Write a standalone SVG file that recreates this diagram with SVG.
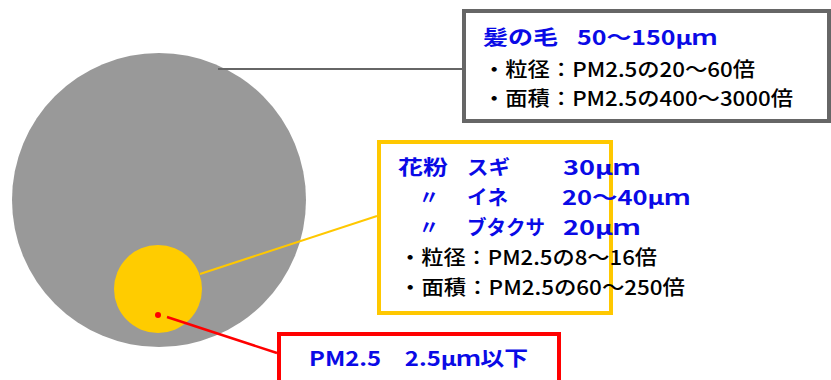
<svg xmlns="http://www.w3.org/2000/svg" width="831" height="380" viewBox="0 0 831 380">
<style>
.t{font-family:"Noto Sans CJK JP","Noto Sans",sans-serif;font-size:20px}
.b{fill:#0a0ae6;font-weight:bold}
.k{fill:#000;font-weight:500}
</style>
<rect width="831" height="380" fill="#fff"/>
<g id="hair"><circle cx="159" cy="200" r="147" fill="#999999"/></g>
<g id="pollen"><circle cx="158" cy="289" r="44" fill="#FFCC00"/></g>
<g id="pm25"><circle cx="158" cy="315" r="3" fill="#FF0000"/></g>
<g id="connectors" fill="none">
<line x1="218" y1="69" x2="462" y2="69" stroke="#666" stroke-width="2"/>
<line x1="200" y1="274" x2="377" y2="216" stroke="#FFC800" stroke-width="2"/>
<line x1="167" y1="317" x2="277" y2="353" stroke="#FF0000" stroke-width="2.5"/>
</g>
<g id="hair-label">
<rect x="464" y="11" width="365" height="110" fill="#fff" stroke="#666" stroke-width="4"/>
<text class="t b" x="483" y="45" textLength="75" lengthAdjust="spacingAndGlyphs">髪の毛</text>
<text class="t b" x="577" y="45" textLength="140" lengthAdjust="spacingAndGlyphs">50～150μｍ</text>
<text class="t k" x="483" y="77" textLength="272" lengthAdjust="spacingAndGlyphs">・粒径：PM2.5の20～60倍</text>
<text class="t k" x="483" y="106" textLength="310" lengthAdjust="spacingAndGlyphs">・面積：PM2.5の400～3000倍</text>
</g>
<g id="pollen-label">
<rect x="379" y="142" width="232" height="171" fill="#fff" stroke="#FFC800" stroke-width="4"/>
<text class="t b" x="398" y="175" textLength="50" lengthAdjust="spacingAndGlyphs">花粉</text>
<text class="t b" x="467" y="175" textLength="43" lengthAdjust="spacingAndGlyphs">スギ</text>
<text class="t b" x="563" y="175" textLength="77" lengthAdjust="spacingAndGlyphs">30μｍ</text>
<text class="t b" x="419" y="205">〃</text>
<text class="t b" x="467" y="205" textLength="41" lengthAdjust="spacingAndGlyphs">イネ</text>
<text class="t b" x="562" y="205" textLength="128" lengthAdjust="spacingAndGlyphs">20～40μｍ</text>
<text class="t b" x="419" y="235">〃</text>
<text class="t b" x="467" y="235" textLength="78" lengthAdjust="spacingAndGlyphs">ブタクサ</text>
<text class="t b" x="563" y="235" textLength="77" lengthAdjust="spacingAndGlyphs">20μｍ</text>
<text class="t k" x="399" y="265" textLength="258" lengthAdjust="spacingAndGlyphs">・粒径：PM2.5の8～16倍</text>
<text class="t k" x="399" y="295" textLength="286" lengthAdjust="spacingAndGlyphs">・面積：PM2.5の60～250倍</text>
</g>
<g id="pm25-label">
<rect x="279" y="334" width="280" height="80" fill="#fff" stroke="#FF0000" stroke-width="4"/>
<text class="t b" x="309" y="366" textLength="219" lengthAdjust="spacingAndGlyphs">PM2.5　2.5μｍ以下</text>
</g>
</svg>
